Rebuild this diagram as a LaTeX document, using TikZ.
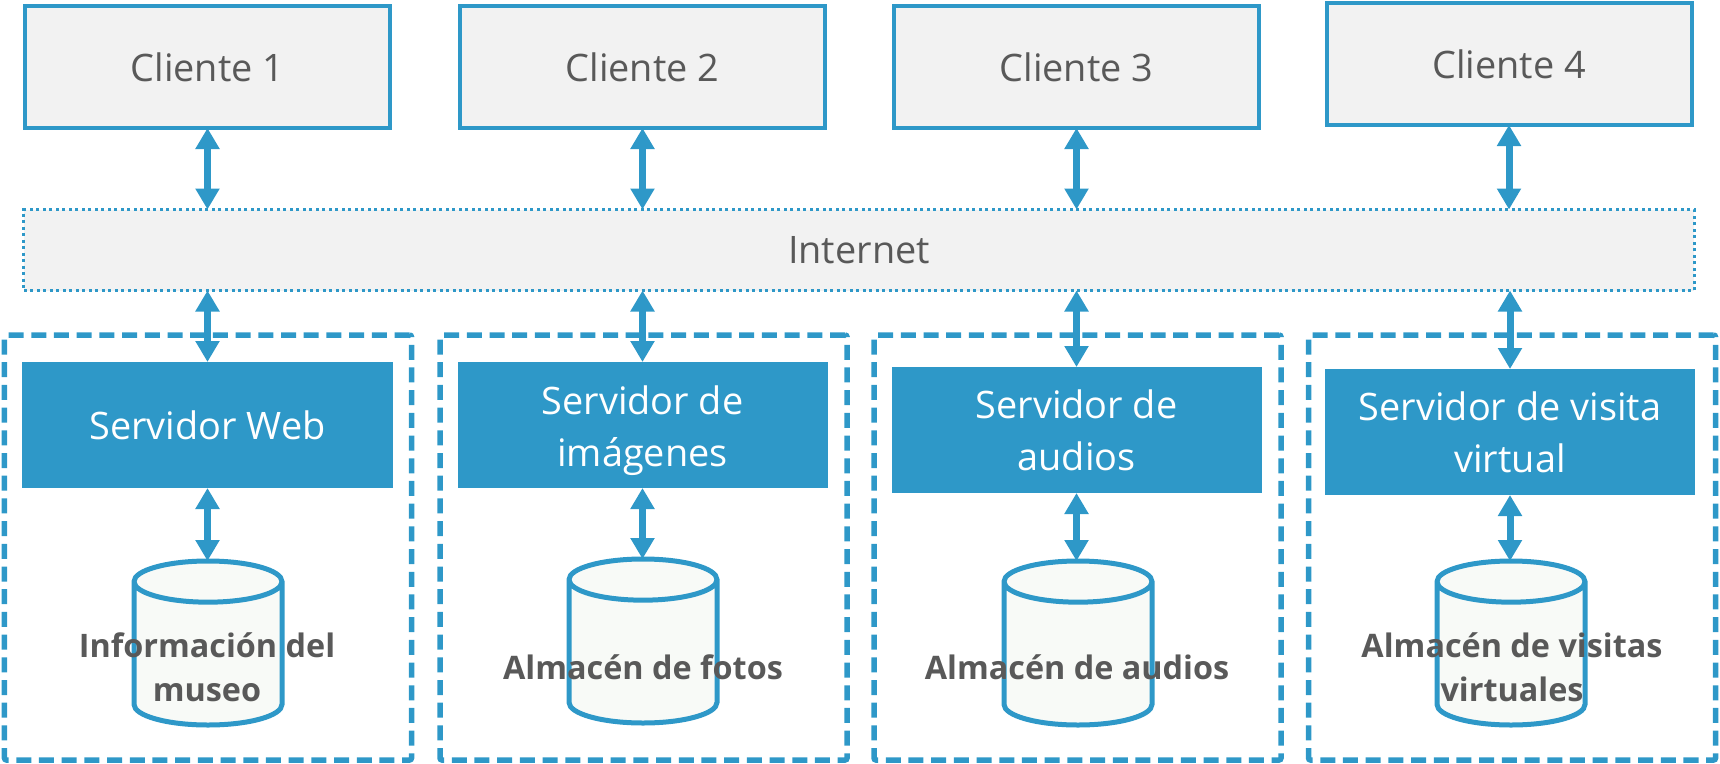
\documentclass[tikz,border=0pt]{standalone}
\usepackage{fontspec}
\setmainfont{Open Sans}
\usepackage{xcolor}
\usetikzlibrary{arrows.meta}
\usetikzlibrary{shapes.geometric}
\definecolor{linkblue}{HTML}{2E98C8}
\definecolor{textgray}{HTML}{595959}
\definecolor{boxgray}{HTML}{F2F2F2}
\definecolor{dbfill}{HTML}{F8FAF7}
\tikzset{
    clientbox/.style={draw=linkblue, line width=4bp, fill=boxgray, text=textgray,
        minimum width=365bp, minimum height=122bp, outer sep=0pt, font=\fontsize{38}{46}\selectfont},
    netbox/.style={draw=linkblue, line width=3bp, dash pattern=on 3bp off 3.5bp, fill=boxgray, text=textgray,
        minimum width=1670bp, minimum height=81bp, outer sep=0pt, font=\fontsize{38}{46}\selectfont},
    serverbox/.style={fill=linkblue, text=white, align=center,
        minimum width=370bp, minimum height=126bp, outer sep=0pt, font=\fontsize{38}{52}\selectfont},
    groupbox/.style={draw=linkblue, line width=5.5bp, dash pattern=on 15bp off 7.7bp, rounded corners=2bp,
        minimum width=407bp, minimum height=425bp, outer sep=0pt},
    dbcyl/.style={cylinder, shape border rotate=90, shape aspect=6.2, draw=linkblue, line width=5bp, fill=dbfill,
        minimum width=148bp, minimum height=164bp, outer sep=0pt, anchor=north},
    dblabel/.style={text=textgray, align=center, font=\fontsize{32.5}{44}\selectfont\bfseries},
    link/.style={draw=linkblue, line width=7bp, {Triangle[length=21bp,width=23bp]}-{Triangle[length=21bp,width=23bp]}}
}
\begin{document}
\begin{tikzpicture}[x=1bp, y=-1bp]
\useasboundingbox (0,0) rectangle (1720,764);

% clients
\node[clientbox] (c1) at (207.5,67) {Cliente 1};
\node[clientbox] (c2) at (642.5,67) {Cliente 2};
\node[clientbox] (c3) at (1076.5,67) {Cliente 3};
\node[clientbox] (c4) at (1509,64) {Cliente 4};

\node[netbox] (net) at (859,250) {Internet};

% dashed groups
\node[groupbox] (g1) at (208,547.5) {};
\node[groupbox] (g2) at (643.5,547.5) {};
\node[groupbox] (g3) at (1077.5,547.5) {};
\node[groupbox] (g4) at (1512,547.5) {};

% servers
\node[serverbox] (s1) at (207.5,425) {Servidor Web};
\node[serverbox] (s2) at (642.5,425) {\rule{0pt}{40pt}Servidor de\\im\'agenes};
\node[serverbox] (s3) at (1076.5,430) {Servidor de\\audios};
\node[serverbox] (s4) at (1510,432) {Servidor de visita\\virtual};

% stores
\node[dbcyl] (d1) at (208,561) {};
\node[dbcyl] (d2) at (643,559) {};
\node[dbcyl] (d3) at (1078,561) {};
\node[dbcyl] (d4) at (1511,561) {};

\node[dblabel] (l1) at (207,667) {Informaci\'on del\\museo};
\node[dblabel] (l2) at (643,667) {Almac\'en de fotos};
\node[dblabel] (l3) at (1077,667) {Almac\'en de audios};
\node[dblabel] (l4) at (1512,667) {Almac\'en de visitas\\virtuales};

\draw[link] (c1.south) -- (c1.south |- net.north);
\draw[link] (c2.south) -- (c2.south |- net.north);
\draw[link] (c3.south) -- (c3.south |- net.north);
\draw[link] (c4.south) -- (c4.south |- net.north);

\draw[link] (s1.north) -- (s1.north |- net.south);
\draw[link] (s2.north) -- (s2.north |- net.south);
\draw[link] (s3.north) -- (s3.north |- net.south);
\draw[link] (s4.north) -- (s4.north |- net.south);

\draw[link] (s1.south) -- (s1.south |- d1.north);
\draw[link] (s2.south) -- (s2.south |- d2.north);
\draw[link] (s3.south) -- (s3.south |- d3.north);
\draw[link] (s4.south) -- (s4.south |- d4.north);
\end{tikzpicture}
\end{document}
